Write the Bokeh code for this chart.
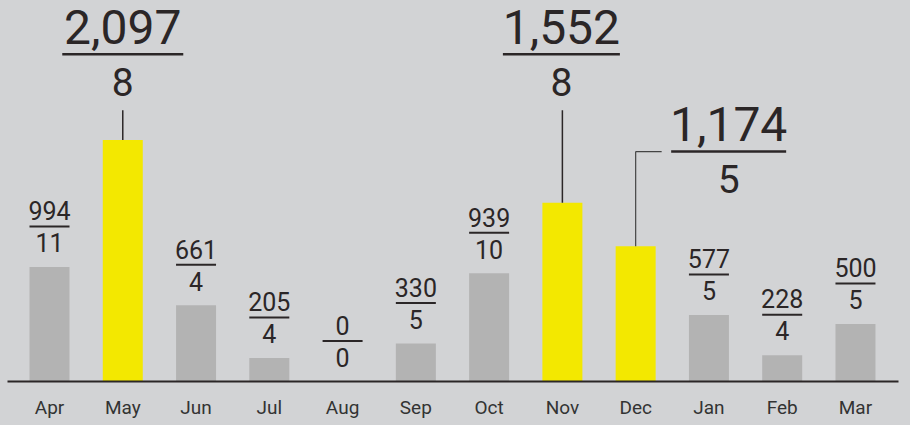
from bokeh.plotting import figure
from bokeh.models import Range1d, FixedTicker, GlobalInlineStyleSheet
from bokeh.core.properties import value
from bokeh.embed import file_html
from bokeh.resources import INLINE

# ---- data ----
months = ["Apr", "May", "Jun", "Jul", "Aug", "Sep", "Oct", "Nov", "Dec", "Jan", "Feb", "Mar"]
amounts = [994, 2097, 661, 205, 0, 330, 939, 1552, 1174, 577, 228, 500]
counts = [11, 8, 4, 4, 0, 5, 10, 8, 5, 5, 4, 5]
highlight = ["May", "Nov", "Dec"]

# ---- style / layout ----
BG = "#d2d3d5"
GREY = "#b3b3b3"
YELLOW = "#f3e800"
INK = "#2b2627"
FONT = "Roboto"

W, H = 910, 425
BORDER_L, BORDER_R, BORDER_B = 7, 12, 44
FRAME_W = W - BORDER_L - BORDER_R
FRAME_H = H - BORDER_B
PX_PER_BAR = 73.27
X0 = -42 / PX_PER_BAR
X1 = X0 + FRAME_W / PX_PER_BAR
Y1 = 3307
DX = 1 / PX_PER_BAR      # data units per pixel (x)
DY = Y1 / FRAME_H        # data units per pixel (y)
BAR_PX = 40
SHIFT = 0.39             # baseline correction (fraction of font size)

SMALL_PX, BIG_PX, BIGDEN_PX = 25, 48, 39

# big-label placement (level of the fraction line in data units, shift in px)
big_level = {"May": 2840, "Nov": 2840, "Dec": 1996}
big_shift_px = {"May": 0, "Nov": -1, "Dec": 93}
big_line_px = {"May": 121, "Nov": 117, "Dec": 115}

p = figure(width=W, height=H, x_range=Range1d(X0, X1), y_range=Range1d(0, Y1),
           output_backend="svg", toolbar_location=None,
           min_border_left=BORDER_L, min_border_right=BORDER_R, min_border_top=0,
           min_border_bottom=BORDER_B, y_axis_location=None,
           background_fill_color=BG, border_fill_color=BG, outline_line_color=None)
p.stylesheets = [GlobalInlineStyleSheet(css="html, body { background-color: #d2d3d5; }")]

idx = list(range(len(months)))
colors = [YELLOW if m in highlight else GREY for m in months]
p.vbar(x=idx, top=amounts, bottom=0, width=BAR_PX * DX, fill_color=colors, line_color=None)

def fmt(v):
    return f"{v:,}"

# small fraction labels
sx, sy_num, sy_den, snum, sden = [], [], [], [], []
lx0, lx1, ly = [], [], []
for i, m in enumerate(months):
    if m in highlight:
        continue
    v = amounts[i]
    sx.append(i)
    sy_num.append(v + (46.5 + SHIFT * SMALL_PX) * DY)
    sy_den.append(v + (14.5 + SHIFT * SMALL_PX) * DY)
    snum.append(fmt(v))
    sden.append(str(counts[i]))
    lx0.append(i - BAR_PX / 2 * DX)
    lx1.append(i + BAR_PX / 2 * DX)
    ly.append(v + 40.5 * DY)

p.text(x=sx, y=sy_num, text=snum, text_font=value(FONT), text_font_size=f"{SMALL_PX}px",
       text_color=INK, text_align="center", text_baseline="alphabetic")
p.text(x=sx, y=sy_den, text=sden, text_font=value(FONT), text_font_size=f"{SMALL_PX}px",
       text_color=INK, text_align="center", text_baseline="alphabetic")
p.segment(x0=lx0, y0=ly, x1=lx1, y1=ly, line_color=INK, line_width=2)

# big fraction labels with leader lines
bx, by_num, by_den, bnum, bden = [], [], [], [], []
blx0, blx1, bly = [], [], []
for m in highlight:
    i = months.index(m)
    v = amounts[i]
    L = big_level[m]
    cx = i + big_shift_px[m] * DX
    bx.append(cx)
    by_num.append(L + (8.5 + SHIFT * BIG_PX) * DY)
    by_den.append(L + (-42.5 + SHIFT * BIGDEN_PX) * DY)
    bnum.append(fmt(v))
    bden.append(str(counts[i]))
    blx0.append(cx - big_line_px[m] / 2 * DX)
    blx1.append(cx + big_line_px[m] / 2 * DX)
    bly.append(L)
    if abs(big_shift_px[m]) < 5:
        p.segment(x0=[i], y0=[v], x1=[i], y1=[L - 56 * DY], line_color=INK, line_width=1.5)
    else:
        p.segment(x0=[i, i], y0=[v, L], x1=[i, i + 26 * DX], y1=[L, L],
                  line_color="#444444", line_width=1.2)

p.text(x=bx, y=by_num, text=bnum, text_font=value(FONT), text_font_size=f"{BIG_PX}px",
       text_color=INK, text_align="center", text_baseline="alphabetic")
p.text(x=bx, y=by_den, text=bden, text_font=value(FONT), text_font_size=f"{BIGDEN_PX}px",
       text_color=INK, text_align="center", text_baseline="alphabetic")
p.segment(x0=blx0, y0=bly, x1=blx1, y1=bly, line_color=INK, line_width=2.5)

# axis
ax = p.xaxis[0]
ax.ticker = FixedTicker(ticks=idx)
ax.major_label_overrides = {i: m for i, m in enumerate(months)}
ax.major_tick_line_color = None
ax.minor_tick_line_color = None
ax.major_tick_out = 0
ax.major_tick_in = 0
ax.major_label_standoff = 14
ax.axis_line_width = 2
ax.axis_line_color = INK
ax.major_label_text_font = FONT
ax.major_label_text_font_size = "19px"
ax.major_label_text_color = "#333333"
p.xgrid.visible = False
p.ygrid.visible = False

open("out.html", "w").write(file_html(p, INLINE))
